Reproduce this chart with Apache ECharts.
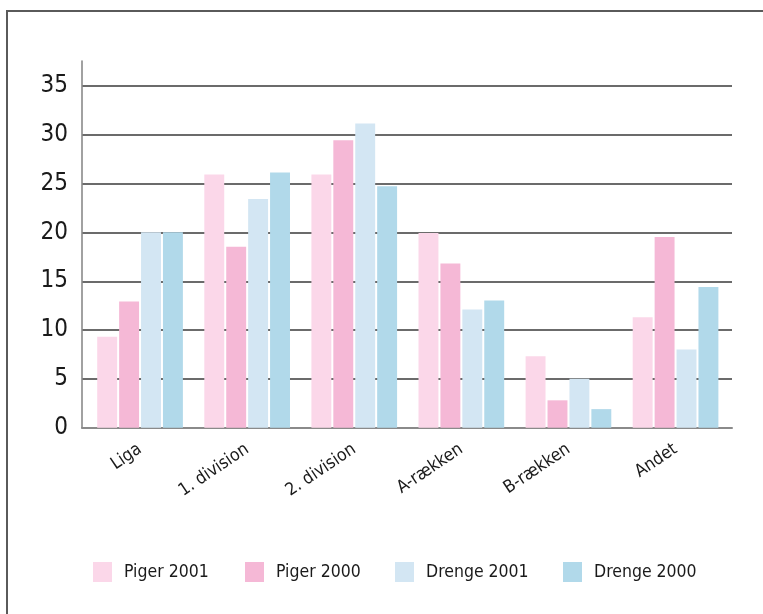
<!DOCTYPE html>
<html>
<head>
<meta charset="utf-8">
<script src="https://cdn.jsdelivr.net/npm/echarts@6/dist/echarts.min.js"></script>
<style>
html,body{margin:0;padding:0;background:#fff;}
#frame{position:absolute;left:6px;top:10px;width:800px;height:700px;border-left:2px solid #5a5a5a;border-top:2px solid #5a5a5a;}
#chart{position:absolute;left:0;top:0;width:763px;height:614px;}
</style>
</head>
<body>
<div id="frame"></div>
<div id="chart"></div>
<script>
var categories = ['Liga', '1. division', '2. division', 'A-rækken', 'B-rækken', 'Andet'];
var seriesNames = ['Piger 2001', 'Piger 2000', 'Drenge 2001', 'Drenge 2000'];
var piger2001 = [9.3, 25.9, 25.9, 19.9, 7.3, 11.3];
var piger2000 = [12.9, 18.5, 29.4, 16.8, 2.8, 19.5];
var drenge2001 = [20.0, 23.4, 31.1, 12.1, 5.0, 8.0];
var drenge2000 = [20.0, 26.1, 24.7, 13.0, 1.9, 14.4];
var colors = ['#fbd7e9', '#f5b8d6', '#d3e6f3', '#b1d9ea'];

var font = '"DejaVu Sans Condensed", "Liberation Sans", sans-serif';
var chart = echarts.init(document.getElementById('chart'), null, {renderer: 'canvas'});
var values = [piger2001, piger2000, drenge2001, drenge2000];
var legendLefts = [93, 245, 395, 563];

var option = {
  backgroundColor: 'transparent',
  animation: false,
  color: colors,
  legend: seriesNames.map(function (n, i) {
    return {
      data: [n], left: legendLefts[i], top: 562, orient: 'horizontal', padding: 0,
      itemWidth: 19, itemHeight: 20, icon: 'rect',
      textStyle: {fontFamily: font, fontSize: 17.5, color: '#1a1a1a', padding: [0, 0, 0, 7]}
    };
  }),
  grid: [
    {left: 82, right: 31, top: 86, bottom: 186.3},
    {left: 86.5, width: 642.6, top: 61, bottom: 186.3}
  ],
  xAxis: [
    {gridIndex: 0, type: 'value', min: 0, max: 1, show: true,
      axisLine: {show: true, onZero: false, lineStyle: {color: '#8a8a8a', width: 2}},
      axisTick: {show: false}, axisLabel: {show: false}, splitLine: {show: false}},
    {gridIndex: 1, type: 'category', data: categories,
      axisLine: {show: false}, axisTick: {show: false},
      axisLabel: {rotate: 34, margin: 20, fontFamily: font, fontSize: 17.5, color: '#1a1a1a', interval: 0}}
  ],
  yAxis: [
    {gridIndex: 0, type: 'value', min: 0, max: 35, interval: 5,
      axisLine: {show: false}, axisTick: {show: false},
      axisLabel: {margin: 14, fontFamily: font, fontSize: 24, color: '#1a1a1a'},
      splitLine: {show: true, lineStyle: {color: '#3a3a3a', width: 1.6}}},
    {gridIndex: 1, type: 'value', min: 0, max: 37.5, offset: 4.5,
      axisLine: {show: true, lineStyle: {color: '#8a8a8a', width: 1.6}},
      axisTick: {show: false}, axisLabel: {show: false}, splitLine: {show: false}}
  ],
  series: seriesNames.map(function (n, i) {
    return {
      name: n, type: 'bar', xAxisIndex: 1, yAxisIndex: 1,
      data: values[i], barGap: '10%', barCategoryGap: '20%',
      itemStyle: {color: colors[i]}
    };
  })
};
chart.setOption(option);
</script>
</body>
</html>
